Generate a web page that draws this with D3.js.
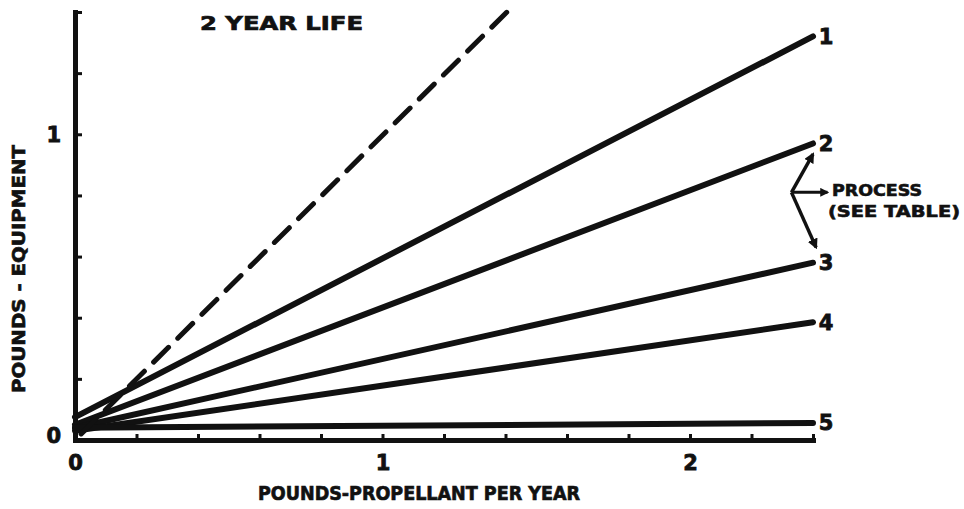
<!DOCTYPE html>
<html>
<head>
<meta charset="utf-8">
<script src="https://cdn.jsdelivr.net/npm/d3@7"></script>
<style>
  body { margin: 0; background: #fff; overflow: hidden; }
  text { font-family: "DejaVu Sans", sans-serif; font-weight: bold; fill: #111; }
</style>
</head>
<body>
<svg id="main-svg" width="964" height="509"></svg>
<script>
'use strict';

// process lines, all run from x = 0 to x = 2.4
const processes = ['1', '2', '3', '4', '5'];
const start_vals = [0.075, 0.05, 0.04, 0.03, 0.04];
const end_vals = [1.32, 0.97, 0.58, 0.385, 0.056];
const x_end = 2.4;

// dashed reference line
const dash_x = [0.02, 1.405];
const dash_y = [0.02, 1.4];

const x_ticks = [0, 0.2, 0.4, 0.6, 0.8, 1, 1.2, 1.4, 1.6, 1.8, 2, 2.2, 2.4];
const y_ticks = [0, 0.2, 0.4, 0.6, 0.8, 1, 1.2, 1.4];
const x_labels = [0, 1, 2];
const y_labels = [0, 1];

const ink = '#111';

const svg = d3.select('#main-svg');
const x = d3.scaleLinear().domain([0, 2.4]).range([75, 813]);
const y = d3.scaleLinear().domain([0, 1.4]).range([440, 12]);

// axes, ticks point inward
const x_axis = d3.axisBottom(x)
    .tickValues(x_ticks)
    .tickSizeInner(-6).tickSizeOuter(0)
    .tickPadding(15)
    .tickFormat(d => x_labels.includes(d) ? d3.format('d')(d) : '');
const y_axis = d3.axisLeft(y)
    .tickValues(y_ticks)
    .tickSizeInner(-7).tickSizeOuter(0)
    .tickPadding(14)
    .tickFormat(d => y_labels.includes(d) ? d3.format('d')(d) : '');

const gx = svg.append('g').attr('transform', `translate(0,${y(0)})`).call(x_axis);
const gy = svg.append('g').attr('transform', `translate(${x(0)},0)`).call(y_axis);
[gx, gy].forEach(g => {
    g.select('.domain').attr('stroke', ink).attr('stroke-width', 5).attr('stroke-linecap', 'square');
    g.selectAll('.tick line').attr('stroke', ink).attr('stroke-width', 3);
    g.selectAll('.tick text').attr('font-size', 21).attr('font-family', '"DejaVu Sans", sans-serif')
        .attr('font-weight', 'bold').attr('fill', ink)
        .attr('stroke', ink).attr('stroke-width', 0.8);
});
gy.selectAll('.tick text').attr('dy', '0.32em');
gy.selectAll('.tick').filter(d => d === 0).select('text').attr('dy', '0.1em');

// process lines
const line = d3.line().x(d => x(d[0])).y(d => y(d[1]));
const rows = processes.map((p, i) => ({name: p, pts: [[0, start_vals[i]], [x_end, end_vals[i]]]}));

svg.append('g').selectAll('path')
    .data(rows)
    .enter().append('path')
    .attr('d', d => line(d.pts))
    .attr('fill', 'none')
    .attr('stroke', ink)
    .attr('stroke-width', 6)
    .attr('stroke-linecap', 'round');

svg.append('g').selectAll('text')
    .data(rows)
    .enter().append('text')
    .attr('x', d => x(x_end) + 13)
    .attr('y', d => y(d.pts[1][1]))
    .attr('dy', '0.36em')
    .attr('text-anchor', 'middle')
    .attr('font-size', 21)
    .attr('stroke', ink).attr('stroke-width', 0.8)
    .text(d => d.name);

// dashed line
svg.append('path')
    .attr('d', line(dash_x.map((v, i) => [v, dash_y[i]])))
    .attr('fill', 'none')
    .attr('stroke', ink)
    .attr('stroke-width', 5)
    .attr('stroke-dasharray', '21 13')
    .attr('stroke-linecap', 'round');

// "process" bracket
const vx = x(2.33), vy = y(0.81);
const arms = [[x(2.4), y(0.935)], [x(2.41), y(0.63)]];
svg.append('defs').append('marker')
    .attr('id', 'arr').attr('viewBox', '0 0 10 10')
    .attr('refX', 8).attr('refY', 5)
    .attr('markerWidth', 3).attr('markerHeight', 3)
    .attr('orient', 'auto')
    .append('path').attr('d', 'M0,0 L10,5 L0,10 z').attr('fill', ink);

arms.forEach(a => {
    svg.append('line')
        .attr('x1', vx).attr('y1', vy).attr('x2', a[0]).attr('y2', a[1])
        .attr('stroke', ink).attr('stroke-width', 3.5)
        .attr('marker-end', 'url(#arr)');
});
svg.append('line')
    .attr('x1', vx).attr('y1', vy).attr('x2', vx + 36).attr('y2', vy)
    .attr('stroke', ink).attr('stroke-width', 3)
    .attr('marker-end', 'url(#arr)');

svg.append('text').attr('x', 832).attr('y', 196).attr('font-size', 15)
    .attr('stroke', ink).attr('stroke-width', 0.6)
    .attr('textLength', 90).attr('lengthAdjust', 'spacingAndGlyphs').text('PROCESS');
svg.append('text').attr('x', 828).attr('y', 217).attr('font-size', 15)
    .attr('stroke', ink).attr('stroke-width', 0.6)
    .attr('textLength', 132).attr('lengthAdjust', 'spacingAndGlyphs').text('(SEE TABLE)');

// titles
svg.append('text').attr('x', 200).attr('y', 30).attr('font-size', 19)
    .attr('stroke', ink).attr('stroke-width', 0.7)
    .attr('textLength', 163).attr('lengthAdjust', 'spacingAndGlyphs').text('2 YEAR LIFE');

svg.append('text').attr('x', 419).attr('y', 500).attr('text-anchor', 'middle').attr('font-size', 19)
    .attr('stroke', ink).attr('stroke-width', 0.7)
    .attr('textLength', 322).attr('lengthAdjust', 'spacingAndGlyphs').text('POUNDS-PROPELLANT PER YEAR');

svg.append('text')
    .attr('transform', 'translate(25,269) rotate(-90)')
    .attr('text-anchor', 'middle').attr('font-size', 18)
    .attr('stroke', ink).attr('stroke-width', 0.7)
    .attr('textLength', 248).attr('lengthAdjust', 'spacingAndGlyphs')
    .text('POUNDS - EQUIPMENT');
</script>
</body>
</html>
